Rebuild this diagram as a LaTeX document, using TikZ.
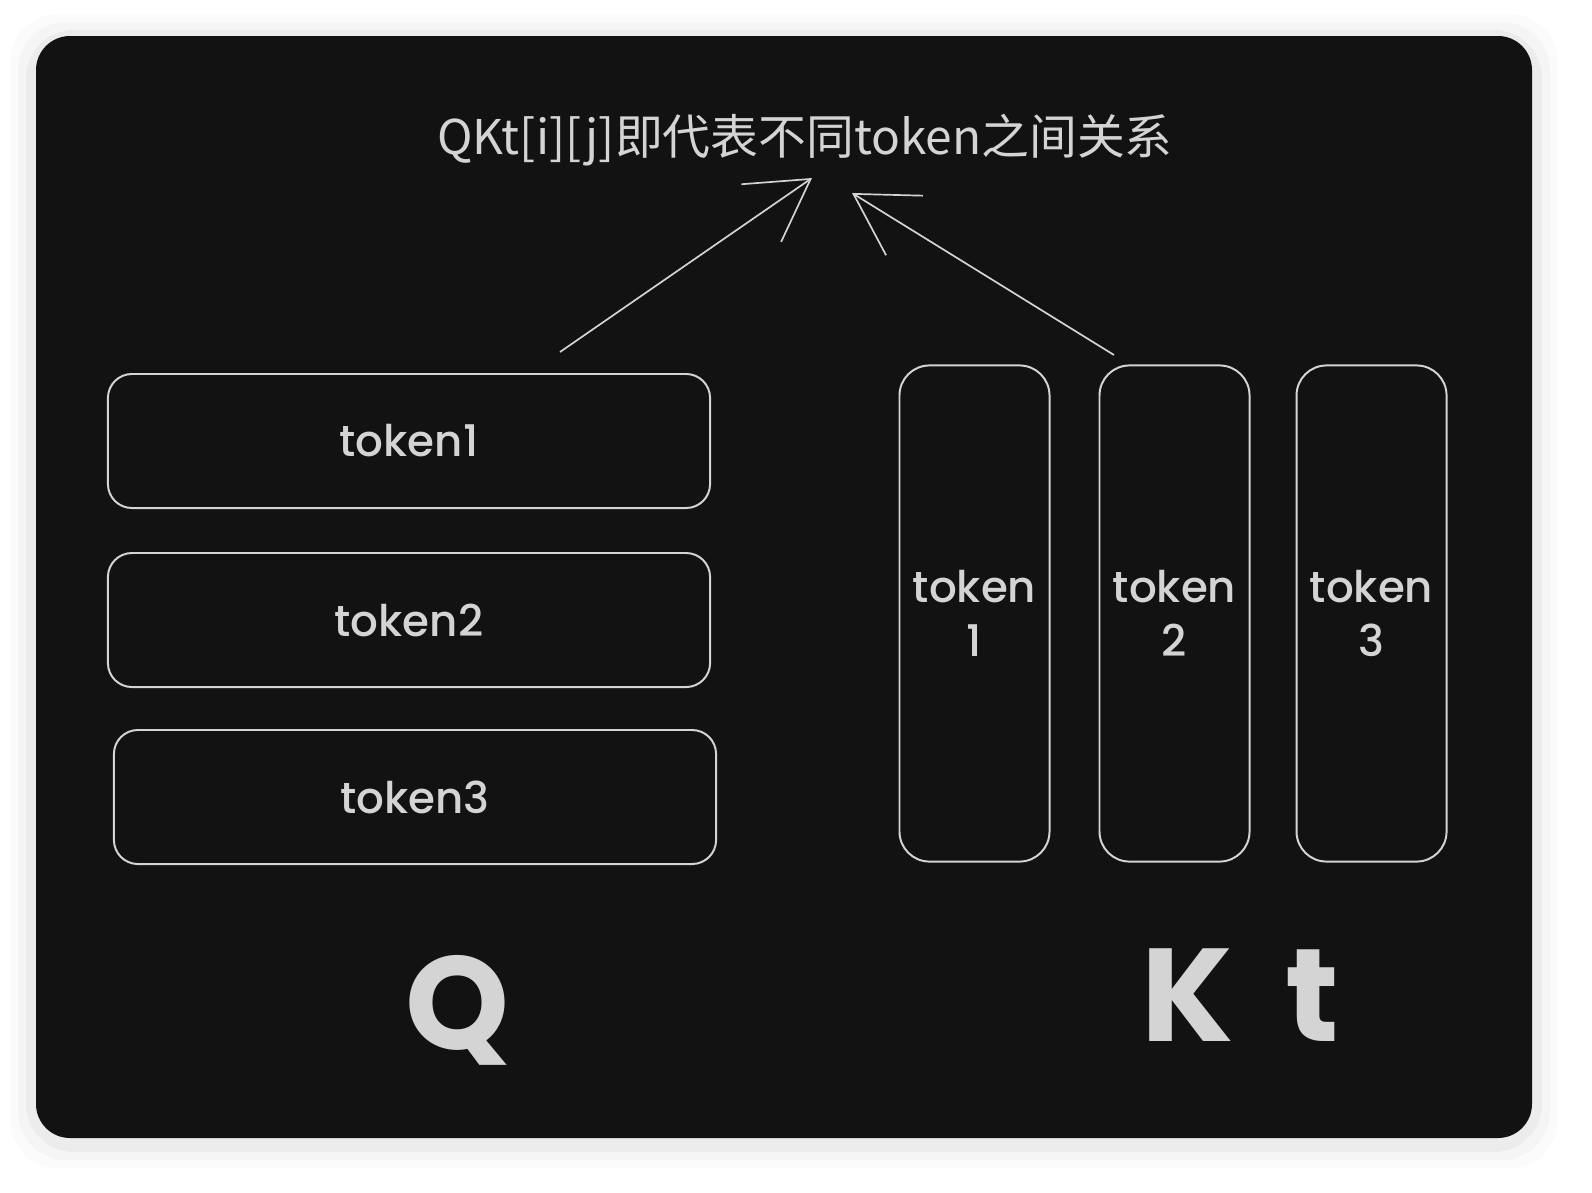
\documentclass[tikz,border=0pt]{standalone}
\usepackage{fontspec}
\setmainfont{Poppins}
\newfontfamily\tokfont{Poppins}[UprightFont=* Medium]
\newfontfamily\cjk{Noto Sans CJK SC}
\usetikzlibrary{arrows.meta, positioning}

\begin{document}
\begin{tikzpicture}[x=0.025cm, y=-0.025cm,
    rowbox/.style={draw=inkcolor, line width=1.4pt, rounded corners=0.6cm, minimum width=15.05cm, minimum height=3.35cm, text=inkcolor, font=\tokfont\fontsize{31}{36}\selectfont},
    colbox/.style={draw=inkcolor, line width=1.4pt, rounded corners=0.75cm, minimum width=3.75cm, minimum height=12.4cm, text=inkcolor, align=center, font=\tokfont\fontsize{31}{38}\selectfont},
    bigletter/.style={text=inkcolor, font=\fontsize{94}{94}\selectfont\bfseries},
    arr/.style={draw=inkcolor, line width=1.2pt, -{Straight Barb[length=1.5cm, width=1.75cm, line width=1.2pt]}}]
        % Define some colors for convenience
        \definecolor{panelcolor}{HTML}{121212} % dark panel
        \definecolor{inkcolor}{HTML}{D4D4D4} % chalk lines and text

        % Page and panel
        \useasboundingbox (0,0) rectangle (1592,1192);
        \fill[white] (0,0) rectangle (1592,1192);
        \foreach \s/\o in {26/0.015, 18/0.025, 10/0.035} % soft shadow
            \fill[black, opacity=\o, rounded corners=1.2cm] (36-\s,40-\s) rectangle (1532+\s,1142+\s);
        \fill[panelcolor, rounded corners=0.85cm] (36,36) rectangle (1532,1138); % panel

        % Title
        \node[text=inkcolor, font=\cjk\fontsize{34}{40}\selectfont] (title) at (805,140) {QKt[i][j]即代表不同token之间关系};

        % Q rows
        \node[rowbox] (qrow1) at (409,441) {token1};
        \node[rowbox, below=1.075cm of qrow1] (qrow2) {token2};
        \node[rowbox] (qrow3) at (415,797) {token3};

        % Kt columns
        \node[colbox] (kcol1) at (974.5,613.5) {token\\1};
        \node[colbox, right=1.2cm of kcol1] (kcol2) {token\\2};
        \node[colbox, right=1.125cm of kcol2] (kcol3) {token\\3};

        % Matrix names
        \node[bigletter] (qname) at (458,1010) {Q};
        \node[bigletter] (ktname) at (1240,995) {K\hspace{1.3cm}t};

        % Arrows to the title
        \coordinate (qfoot) at (560,352);
        \coordinate (qtip) at (812,178);
        \coordinate (kfoot) at (1114,355);
        \coordinate (ktip) at (852,193);
        \draw[arr] (qfoot) -- (qtip); % from Q
        \draw[arr] (kfoot) -- (ktip); % from Kt
\end{tikzpicture}
\end{document}
